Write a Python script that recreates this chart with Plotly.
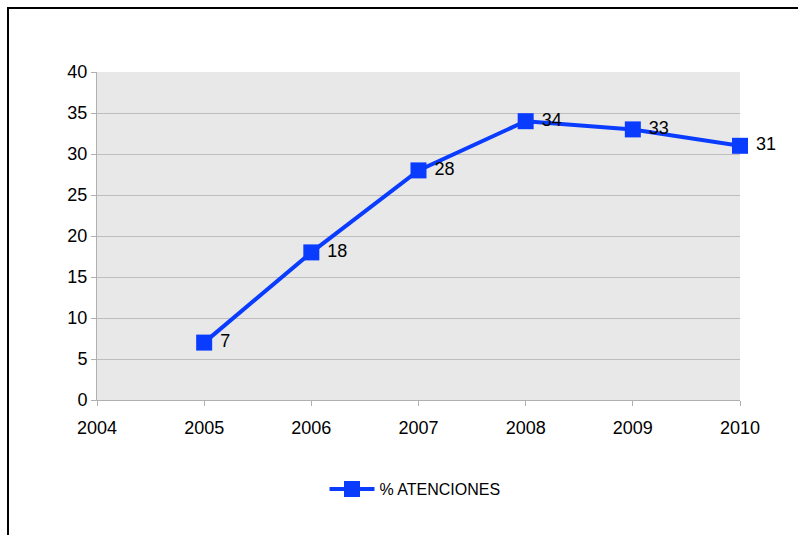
import plotly.graph_objects as go

years = [2005, 2006, 2007, 2008, 2009, 2010]
values = [7, 18, 28, 34, 33, 31]
series_name = "% ATENCIONES"

blue = "#0a3cff"
font_family = "Liberation Sans, Arial, sans-serif"

fig = go.Figure()
fig.add_trace(go.Scatter(
    x=years, y=values, name=series_name,
    mode="lines+markers+text",
    line=dict(color=blue, width=4),
    marker=dict(symbol="square", size=16, color=blue),
    text=[" " + str(v) for v in values],
    textposition="middle right",
    textfont=dict(size=18, color="#000000", family=font_family),
    cliponaxis=False,
))

W, H = 798, 535
l, r, t, b = 97, 58, 72, 135
pw, ph = W - l - r, H - t - b

def px(xp):
    return (xp - l) / pw

def py(yp):
    return (H - b - yp) / ph

fig.add_shape(type="rect", xref="paper", yref="paper",
              x0=px(8), x1=px(830), y0=py(560), y1=py(8),
              line=dict(color="black", width=2), fillcolor="rgba(0,0,0,0)", layer="above")

fig.update_layout(
    width=W, height=H,
    margin=dict(l=l, r=r, t=t, b=b),
    paper_bgcolor="white",
    plot_bgcolor="#e8e8e8",
    font=dict(family=font_family, size=18, color="black"),
    showlegend=True,
    legend=dict(orientation="h", x=px(415), xanchor="center", y=py(489), yanchor="middle",
                font=dict(size=16), bgcolor="rgba(0,0,0,0)", itemwidth=45),
    xaxis=dict(range=[2004, 2010], tickmode="array", tickvals=[2004, 2005, 2006, 2007, 2008, 2009, 2010],
               showgrid=False, showline=True, linecolor="#b0b0b0", linewidth=1,
               ticks="outside", ticklen=5, tickcolor="#b0b0b0", ticklabelstandoff=6,
               zeroline=False, tickfont=dict(size=18)),
    yaxis=dict(range=[0, 40], dtick=5, showgrid=True, gridcolor="#bdbdbd", gridwidth=1,
               showline=True, linecolor="#b0b0b0", linewidth=1,
               ticks="outside", ticklen=5, tickcolor="#b0b0b0",
               zeroline=False, tickfont=dict(size=18)),
)

fig.write_html("out.html")
